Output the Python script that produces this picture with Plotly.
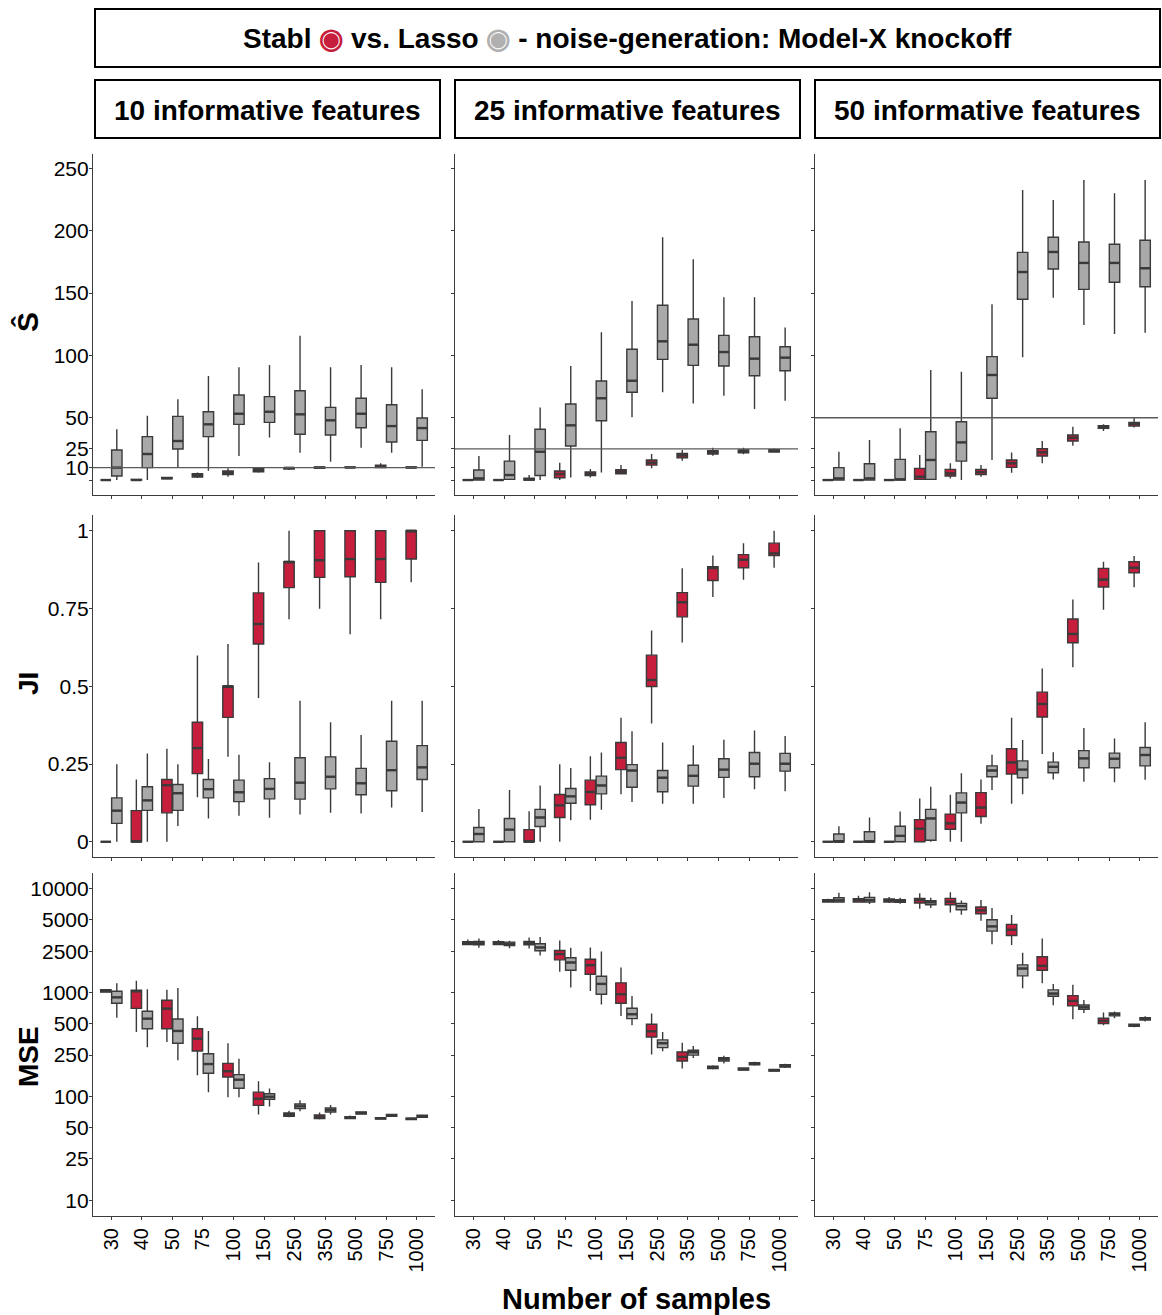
import plotly.graph_objects as go

# ---------------------------------------------------------------------------
# Data: one list per (metric, number of informative features, method).
# Each entry is (lower whisker, Q1, median, Q3, upper whisker) for one
# sample size, in the order of SAMPLE_SIZES.
# ---------------------------------------------------------------------------
SAMPLE_SIZES = ["30", "40", "50", "75", "100", "150", "250", "350", "500", "750", "1000"]
FEATURE_COUNTS = [10, 25, 50]

SHAT_10_STABL = [(0, 0, 0, 0, 0), (0, 0, 0, 0.5, 1), (0.5, 1, 1.5, 2, 2.5), (1.6, 2.4, 3.7, 5.1, 6),
                 (2.7, 4.5, 5.9, 7.2, 9.4), (5.9, 6.7, 8.0, 9.4, 10.4), (8, 8.8, 9.8, 10, 10.5),
                 (9, 9.4, 10, 10.5, 11), (10, 10, 10, 10.5, 11), (10, 10, 10.7, 12, 13.4),
                 (9.6, 9.9, 10, 10.6, 11)]
SHAT_10_LASSO = [(0, 3.2, 10, 24.1, 40.7), (0, 10, 20.9, 34.8, 51.6), (10, 24.9, 31.3, 51.1, 64.8),
                 (7.5, 34.8, 44.7, 54.8, 83.5), (19.3, 44.7, 53.2, 68.2, 90.4), (34.2, 46.3, 54.8, 66.9, 92.3),
                 (21.9, 36.7, 52.7, 71.7, 115.8), (14.7, 36.1, 47.9, 58.3, 90.4), (25.9, 42, 53.2, 65.6, 92.3),
                 (21.9, 30.5, 43.3, 60.4, 90.4), (10.7, 31.8, 41.7, 49.8, 72.8)]
SHAT_25_STABL = [(0, 0, 0, 0, 0), (0, 0, 0, 0, 0), (0, 0, 0.3, 1.5, 4), (0, 1.9, 4.8, 7.2, 13.9),
                 (2.1, 3.7, 5.1, 6.4, 8.8), (4.5, 5.1, 6.7, 8.3, 12), (9.4, 12, 13.9, 16.1, 20.9),
                 (15.5, 17.9, 19.8, 21.4, 24.1), (19.5, 20.9, 22.2, 23.5, 25.9), (20.6, 21.9, 23.3, 24.1, 25.9),
                 (21.9, 22.5, 23.5, 24.4, 25.3)]
SHAT_25_LASSO = [(0, 0, 1.3, 8, 19.3), (0, 0.5, 4, 15.2, 36.1), (0, 3.7, 22.7, 40.7, 58.3),
                 (2.1, 27.3, 43.9, 61, 91.5), (6.1, 47.6, 65.6, 79.5, 118.5), (50.3, 70.4, 79.7, 104.9, 143.7),
                 (70.4, 96.8, 111.3, 140.2, 194.8), (61.5, 92, 108.6, 129.2, 177.1), (67.7, 91.5, 102.7, 116.1, 146.6),
                 (57, 83.7, 97.4, 115, 146.6), (63.7, 87.7, 98.2, 107, 122.3)]
SHAT_50_STABL = [(0, 0, 0, 0, 0), (0, 0, 0, 0, 0), (0, 0, 0, 0, 0), (0, 0.5, 2.7, 9.4, 20.1),
                 (1.3, 3.2, 5.3, 8.6, 13.4), (2.7, 4.5, 6.4, 8.6, 12), (5.9, 10.2, 13.4, 16.1, 22.2),
                 (13.4, 19.3, 22.2, 25.1, 31.3), (27.6, 31.3, 34, 36.1, 42.8), (39.4, 41.5, 42.5, 43.6, 44.7),
                 (42.2, 43.3, 44.9, 46.3, 50.1)]
SHAT_50_LASSO = [(0, 0, 1.3, 10, 22.7), (0, 0, 1.3, 13.1, 32.1), (0, 0, 0.5, 16.6, 41.5),
                 (0, 0.5, 16.1, 38.8, 88.3), (0, 15.2, 30.2, 46.8, 86.9), (16.1, 65.6, 84.3, 99, 141),
                 (98.5, 145, 166.9, 182.7, 232.7), (146.3, 169.3, 183, 194.8, 224.7), (124.4, 153, 174.2, 191, 240.8),
                 (117.2, 158.7, 174.2, 189.2, 230.1), (118.2, 155.1, 169.9, 192.4, 240.8)]

JI_10_STABL = [(0, 0, 0, 0, 0), (0, 0, 0, 0.1, 0.2), (0, 0.093, 0.182, 0.2, 0.299), (0.143, 0.219, 0.301, 0.384, 0.599),
               (0.273, 0.4, 0.5, 0.5, 0.636), (0.462, 0.636, 0.7, 0.8, 0.898), (0.715, 0.817, 0.9, 0.9, 1.0),
               (0.749, 0.85, 0.905, 1, 1), (0.667, 0.852, 0.909, 1, 1), (0.715, 0.834, 0.909, 1, 1),
               (0.834, 0.909, 1, 1, 1)]
JI_10_LASSO = [(0, 0.059, 0.1, 0.141, 0.249), (0, 0.101, 0.133, 0.177, 0.284), (0.051, 0.101, 0.156, 0.184, 0.249),
               (0.075, 0.141, 0.169, 0.2, 0.266), (0.084, 0.129, 0.159, 0.198, 0.28), (0.077, 0.138, 0.17, 0.203, 0.256),
               (0.088, 0.137, 0.19, 0.27, 0.453), (0.093, 0.17, 0.209, 0.273, 0.384), (0.091, 0.151, 0.188, 0.236, 0.343),
               (0.11, 0.164, 0.23, 0.323, 0.453), (0.096, 0.2, 0.239, 0.309, 0.453)]
JI_25_STABL = [(0, 0, 0, 0, 0), (0, 0, 0, 0, 0), (0, 0, 0, 0.039, 0.098), (0, 0.078, 0.117, 0.152, 0.249),
               (0.071, 0.119, 0.16, 0.198, 0.275), (0.153, 0.232, 0.27, 0.319, 0.399), (0.38, 0.499, 0.52, 0.6, 0.679),
               (0.641, 0.723, 0.77, 0.801, 0.879), (0.787, 0.84, 0.88, 0.884, 0.92), (0.842, 0.881, 0.907, 0.923, 0.96),
               (0.881, 0.92, 0.927, 0.96, 1.0)]
JI_25_LASSO = [(0, 0, 0.025, 0.046, 0.105), (0, 0, 0.039, 0.075, 0.166), (0, 0.049, 0.078, 0.104, 0.181),
               (0.069, 0.124, 0.146, 0.171, 0.237), (0.103, 0.154, 0.181, 0.211, 0.287), (0.128, 0.175, 0.229, 0.248, 0.355),
               (0.122, 0.161, 0.206, 0.229, 0.319), (0.122, 0.179, 0.212, 0.246, 0.31), (0.141, 0.207, 0.232, 0.267, 0.328),
               (0.169, 0.209, 0.251, 0.287, 0.358), (0.162, 0.227, 0.251, 0.284, 0.34)]
JI_50_STABL = [(0, 0, 0, 0, 0), (0, 0, 0, 0, 0), (0, 0, 0, 0, 0), (0, 0, 0.042, 0.071, 0.139),
               (0, 0.04, 0.059, 0.089, 0.151), (0.058, 0.081, 0.11, 0.158, 0.2), (0.122, 0.218, 0.255, 0.299, 0.399),
               (0.282, 0.401, 0.443, 0.481, 0.557), (0.561, 0.64, 0.668, 0.716, 0.779), (0.746, 0.819, 0.843, 0.879, 0.9),
               (0.818, 0.865, 0.881, 0.9, 0.919)]
JI_50_LASSO = [(0, 0, 0, 0.025, 0.05), (0, 0, 0, 0.032, 0.078), (0, 0, 0.019, 0.05, 0.097),
               (0, 0.005, 0.075, 0.104, 0.177), (0, 0.093, 0.126, 0.157, 0.22), (0.166, 0.209, 0.229, 0.244, 0.28),
               (0.153, 0.206, 0.232, 0.26, 0.327), (0.2, 0.222, 0.241, 0.256, 0.288), (0.193, 0.238, 0.268, 0.293, 0.366),
               (0.191, 0.238, 0.267, 0.285, 0.332), (0.199, 0.244, 0.279, 0.303, 0.384)]

MSE_10_STABL = [(1010, 1010, 1035, 1063, 1085), (417, 705, 1028, 1051, 1302), (334, 449, 700, 842, 1067),
                (160, 274, 360, 449, 590), (98, 154, 175, 208, 325), (67, 82, 95, 110, 140),
                (63, 64.4, 67, 69.3, 73), (60, 61.1, 63.9, 66.3, 70), (60.5, 61.1, 62.5, 63.9, 65.5),
                (60, 60.5, 61.6, 62.5, 63.5), (59, 59.9, 61, 61.6, 62.5)]
MSE_10_LASSO = [(573, 788, 899, 1028, 1227), (297, 449, 561, 660, 1074), (223, 325, 427, 557, 1107),
                (110, 167, 205, 258, 427), (98, 120, 145, 162, 231), (80, 94, 99.5, 106, 119),
                (71.9, 76.3, 80.3, 84.6, 91.8), (67, 70.9, 74.1, 77.4, 82.7), (67, 67.8, 69.3, 70.9, 71.9),
                (63.5, 64.4, 66, 67, 68), (62, 63, 64.4, 66, 67)]
MSE_25_STABL = [(2860, 2904, 2992, 3082, 3246), (2860, 2904, 2992, 3082, 3200), (2657, 2882, 2992, 3106, 3393),
                (1582, 2066, 2343, 2542, 3173), (1038, 1502, 1835, 2096, 2717), (596, 789, 963, 1240, 1743),
                (254, 374, 424, 495, 627), (186, 219, 240, 268, 329), (182, 186, 190, 195, 200),
                (177, 179, 183, 188, 191), (174, 176, 178, 182, 184)]
MSE_25_LASSO = [(2697, 2882, 2992, 3106, 3318), (2677, 2840, 2946, 3058, 3150), (2275, 2523, 2717, 2948, 3418),
                (1117, 1642, 1947, 2160, 2697), (766, 963, 1212, 1437, 2486), (484, 561, 618, 706, 928),
                (272, 295, 325, 350, 418), (234, 250, 266, 278, 306), (208, 219, 228, 236, 246),
                (197, 202, 207, 211, 216), (188, 192, 196, 202, 206)]
MSE_50_STABL = [(7328, 7437, 7661, 7833, 8008), (7328, 7437, 7774, 8008, 8560), (7270, 7437, 7717, 7949, 8300),
                (6413, 7272, 7774, 8069, 9016), (5910, 7009, 7492, 8069, 9218), (4913, 5740, 6180, 6655, 7774),
                (2862, 3546, 4023, 4529, 5572), (1230, 1642, 1808, 2209, 3318), (553, 744, 831, 935, 1186),
                (484, 502, 533, 565, 642), (463, 473, 484, 495, 502)]
MSE_50_LASSO = [(7328, 7437, 7717, 8188, 9150), (7113, 7437, 7774, 8249, 9218), (7160, 7380, 7603, 7833, 8188),
                (6509, 7009, 7382, 7661, 8188), (5614, 6272, 6804, 7219, 7717), (2926, 3905, 4332, 5023, 6509),
                (1101, 1448, 1704, 1849, 2413), (755, 922, 978, 1061, 1212), (637, 691, 722, 760, 850),
                (565, 596, 618, 637, 656), (527, 545, 561, 574, 590)]

SHAT_TICKS = [0, 10, 25, 50, 100, 150, 200, 250]
SHAT_TICK_TEXT = ["", "10", "25", "50", "100", "150", "200", "250"]
JI_TICKS = [0, 0.25, 0.5, 0.75, 1]
JI_TICK_TEXT = ["0", "0.25", "0.5", "0.75", "1"]
MSE_TICKS = [10, 25, 50, 100, 250, 500, 1000, 2500, 5000, 10000]
MSE_TICK_TEXT = [str(v) for v in MSE_TICKS]

# ---------------------------------------------------------------------------
# Styling / geometry
# ---------------------------------------------------------------------------
W, H = 1162, 1315
FONT = "Liberation Sans, Arial, Helvetica, sans-serif"
RED = "#C71E3D"
GRAY = "#A9A9A9"
EDGE = "#3A3A3A"
AXIS = "#3C3C3C"
OFFSET = 0.18
BOX_W = 0.34

COL_PX = [(93, 435), (455, 798), (815, 1158)]
ROW_PX = [(154, 495), (515, 857), (873, 1216)]

rows = [
    dict(name="shat", data=[(SHAT_10_STABL, SHAT_10_LASSO), (SHAT_25_STABL, SHAT_25_LASSO),
                            (SHAT_50_STABL, SHAT_50_LASSO)],
         type="linear", range=[-12.0, 261.6], tickvals=SHAT_TICKS, ticktext=SHAT_TICK_TEXT),
    dict(name="ji", data=[(JI_10_STABL, JI_10_LASSO), (JI_25_STABL, JI_25_LASSO),
                          (JI_50_STABL, JI_50_LASSO)],
         type="linear", range=[-0.049, 1.0505], tickvals=JI_TICKS, ticktext=JI_TICK_TEXT),
    dict(name="mse", data=[(MSE_10_STABL, MSE_10_LASSO), (MSE_25_STABL, MSE_25_LASSO),
                           (MSE_50_STABL, MSE_50_LASSO)],
         type="log", range=[0.849, 4.151], tickvals=MSE_TICKS, ticktext=MSE_TICK_TEXT),
]

fig = go.Figure()
layout_axes = {}
shapes = []

for r, row in enumerate(rows):
    for c in range(3):
        k = r * 3 + c + 1
        sfx = "" if k == 1 else str(k)
        xa, ya = "x" + sfx, "y" + sfx
        stabl, lasso = row["data"][c]
        med_x, med_y = [], []
        for stats, off, fill in ((stabl, -OFFSET, RED), (lasso, OFFSET, GRAY)):
            lo, q1, med, q3, hi = (list(v) for v in zip(*stats))
            xs = [i + off for i in range(len(SAMPLE_SIZES))]
            fig.add_trace(go.Box(
                x=xs, lowerfence=lo, q1=q1, median=med, q3=q3, upperfence=hi,
                width=BOX_W, fillcolor=fill, line=dict(color=EDGE, width=1.4),
                whiskerwidth=0, boxpoints=False, hoverinfo="skip",
                xaxis=xa, yaxis=ya, showlegend=False,
            ))
            # heavier median bar, as in ggplot boxplots
            for xc, m in zip(xs, med):
                med_x += [xc - BOX_W / 2, xc + BOX_W / 2, None]
                med_y += [m, m, None]
        fig.add_trace(go.Scatter(x=med_x, y=med_y, mode="lines", line=dict(color=EDGE, width=2.4),
                                 hoverinfo="skip", showlegend=False, xaxis=xa, yaxis=ya))

        x0, x1 = COL_PX[c]
        y0, y1 = ROW_PX[r]
        layout_axes["xaxis" + sfx] = dict(
            domain=[x0 / W, x1 / W], anchor=ya, range=[-0.6, 10.6],
            tickvals=list(range(len(SAMPLE_SIZES))), ticktext=SAMPLE_SIZES,
            showticklabels=(r == 2), tickangle=-90,
            tickfont=dict(family=FONT, size=20, color="black"),
            ticks="outside", ticklen=3, tickcolor=AXIS, tickwidth=1,
            showline=True, linecolor=AXIS, linewidth=1.2,
            showgrid=False, zeroline=False, fixedrange=True,
        )
        layout_axes["yaxis" + sfx] = dict(
            domain=[1 - y1 / H, 1 - y0 / H], anchor=xa, type=row["type"], range=row["range"],
            tickvals=row["tickvals"], ticktext=row["ticktext"], showticklabels=(c == 0),
            tickfont=dict(family=FONT, size=21, color="black"), ticklabelstandoff=-4,
            ticks="outside", ticklen=3, tickcolor=AXIS, tickwidth=1,
            showline=True, linecolor=AXIS, linewidth=1.2,
            showgrid=False, zeroline=False, fixedrange=True,
        )
        # true number of informative features as a reference line on the selection-size row
        if r == 0:
            shapes.append(dict(type="line", xref=xa + " domain", yref=ya, x0=0, x1=1,
                               y0=FEATURE_COUNTS[c], y1=FEATURE_COUNTS[c],
                               line=dict(color="#5A5A5A", width=1.4)))


def px_rect(x0, y0, x1, y1):
    return dict(type="rect", xref="paper", yref="paper",
                x0=x0 / W, x1=x1 / W, y0=1 - y1 / H, y1=1 - y0 / H,
                line=dict(color="black", width=2), fillcolor="rgba(0,0,0,0)")


# strip boxes
shapes.append(px_rect(95, 9, 1160, 67))
HEADER_COLS = [(95, 440), (455, 800), (815, 1160)]
for x0, x1 in HEADER_COLS:
    shapes.append(px_rect(x0, 80, x1, 138))

annotations = []


def px_text(text, x, y, size, angle=0):
    annotations.append(dict(text=text, x=x / W, y=1 - y / H, xref="paper", yref="paper",
                            showarrow=False, xanchor="center", yanchor="middle", textangle=angle,
                            font=dict(family=FONT, size=size, color="black")))


px_text("<b>Stabl <span style='color:%s'>◉</span> vs. Lasso <span style='color:%s'>◉</span>"
        " - noise-generation: Model-X knockoff</b>" % (RED, "#B0B0B0"), 627, 39, 28)
for (x0, x1), n in zip(HEADER_COLS, FEATURE_COUNTS):
    px_text("<b>%d informative features</b>" % n, (x0 + x1) / 2, 110, 28)

px_text("<b>Ŝ</b>", 28, 322, 30, -90)
px_text("<b>JI</b>", 28, 684, 28, -90)
px_text("<b>MSE</b>", 28, 1057, 28, -90)
px_text("<b>Number of samples</b>", 636, 1299, 29)

fig.update_layout(
    width=W, height=H, margin=dict(l=0, r=0, t=0, b=0),
    paper_bgcolor="white", plot_bgcolor="white",
    boxmode="overlay", showlegend=False,
    shapes=shapes, annotations=annotations,
    **layout_axes,
)

fig.write_html("out.html")
